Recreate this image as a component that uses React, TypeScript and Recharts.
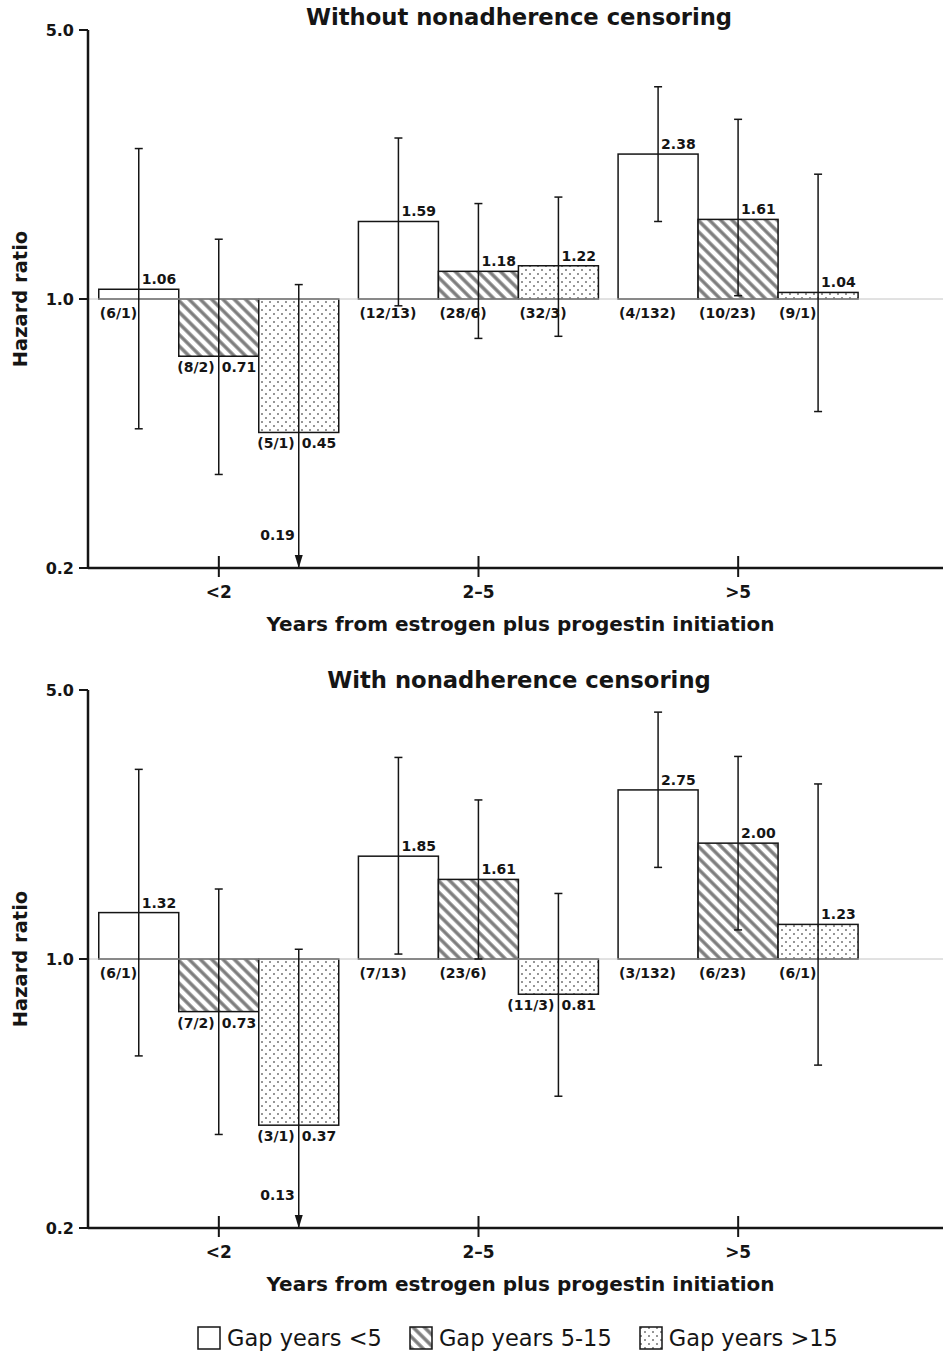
import React from 'react';
import { BarChart, Bar, XAxis, YAxis, ErrorBar, ReferenceLine, Label } from 'recharts';

const groups = ['<2', '2\u20135', '>5'];

// Without nonadherence censoring
const hrLt5A = [1.06, 1.59, 2.38];
const loLt5A = [0.46, 0.96, 1.59];
const hiLt5A = [2.46, 2.62, 3.56];
const nLt5A = ['(6/1)', '(12/13)', '(4/132)'];

const hrMidA = [0.71, 1.18, 1.61];
const loMidA = [0.35, 0.79, 1.02];
const hiMidA = [1.43, 1.77, 2.93];
const nMidA = ['(8/2)', '(28/6)', '(10/23)'];

const hrGt15A = [0.45, 1.22, 1.04];
const loGt15A = [0.19, 0.8, 0.51];
const hiGt15A = [1.09, 1.84, 2.11];
const nGt15A = ['(5/1)', '(32/3)', '(9/1)'];

// With nonadherence censoring
const hrLt5B = [1.32, 1.85, 2.75];
const loLt5B = [0.56, 1.03, 1.73];
const hiLt5B = [3.11, 3.34, 4.38];
const nLt5B = ['(6/1)', '(7/13)', '(3/132)'];

const hrMidB = [0.73, 1.61, 2.0];
const loMidB = [0.35, 1.0, 1.19];
const hiMidB = [1.52, 2.59, 3.36];
const nMidB = ['(7/2)', '(23/6)', '(6/23)'];

const hrGt15B = [0.37, 0.81, 1.23];
const loGt15B = [0.13, 0.44, 0.53];
const hiGt15B = [1.06, 1.48, 2.85];
const nGt15B = ['(3/1)', '(11/3)', '(6/1)'];

const yDomain = [0.2, 5];
const yTicks = [0.2, 1, 5];

const FONT = '"DejaVu Sans", sans-serif';
const INK = '#151515';

const series = [
  { id: 'lt5', name: 'Gap years <5', fill: '#ffffff' },
  { id: 'mid', name: 'Gap years 5-15', fill: 'url(#hatch)' },
  { id: 'gt15', name: 'Gap years >15', fill: 'url(#dots)' },
];

function buildRows(hr: number[][], lo: number[][], hi: number[][], n: string[][]) {
  return groups.map((group, i) => {
    const row: Record<string, any> = { group };
    series.forEach((s, j) => {
      row[s.id] = [1, hr[j][i]]; // bars start at HR = 1
      row[s.id + 'Hr'] = hr[j][i];
      row[s.id + 'Lo'] = lo[j][i];
      row[s.id + 'Hi'] = hi[j][i];
      row[s.id + 'N'] = n[j][i];
    });
    return row;
  });
}

const rowsA = buildRows(
  [hrLt5A, hrMidA, hrGt15A],
  [loLt5A, loMidA, loGt15A],
  [hiLt5A, hiMidA, hiGt15A],
  [nLt5A, nMidA, nGt15A]
);
const rowsB = buildRows(
  [hrLt5B, hrMidB, hrGt15B],
  [loLt5B, loMidB, loGt15B],
  [hiLt5B, hiMidB, hiGt15B],
  [nLt5B, nMidB, nGt15B]
);

// error extents; a CI running off the bottom of the axis stops at the axis (arrow drawn by the bar)
const errorOf = (id: string) => (row: any) => {
  const hr = row[id + 'Hr'];
  const lo = Math.max(row[id + 'Lo'], yDomain[0]);
  return [hr - lo, row[id + 'Hi'] - hr];
};

const labelText = { fontFamily: FONT, fontWeight: 700, fontSize: 14, fill: INK };

function makeBarShape(id: string) {
  return (props: any) => {
    const { x, y, width, height, payload, background, fill } = props;
    const top = Math.min(y, y + height);
    const bottom = Math.max(y, y + height);
    const cx = x + width / 2;
    const hr = payload[id + 'Hr'];
    const lo = payload[id + 'Lo'];
    const n = payload[id + 'N'];
    const floor = background ? background.y + background.height : null;
    return (
      <g>
        <rect x={x} y={top} width={width} height={bottom - top} fill={fill} stroke={INK} strokeWidth={1.5} />
        {hr >= 1 ? (
          <>
            <text x={cx + 3} y={top - 5} {...labelText}>{hr.toFixed(2)}</text>
            <text x={x + 1} y={bottom + 19} {...labelText}>{n}</text>
          </>
        ) : (
          <>
            <text x={cx - 4} y={bottom + 16} textAnchor="end" {...labelText}>{n}</text>
            <text x={cx + 3} y={bottom + 16} {...labelText}>{hr.toFixed(2)}</text>
          </>
        )}
        {lo < yDomain[0] && floor != null && (
          <>
            <path d={`M${cx - 4},${floor - 13} L${cx + 4},${floor - 13} L${cx},${floor} Z`} fill={INK} />
            <text x={cx - 4} y={floor - 28} textAnchor="end" {...labelText}>{lo.toFixed(2)}</text>
          </>
        )}
      </g>
    );
  };
}

function CategoryTick(props: any) {
  const { x, y, payload } = props;
  return (
    <g>
      <line x1={x} y1={y - 12} x2={x} y2={y + 9} stroke={INK} strokeWidth={2} />
      <text x={x} y={y + 30} textAnchor="middle" fontFamily={FONT} fontWeight={700} fontSize={17} fill={INK}>
        {payload.value}
      </text>
    </g>
  );
}

function Panel({ title, titleTop, rows, top }: { title: string; titleTop: number; rows: any[]; top: number }) {
  return (
    <div style={{ position: 'absolute', left: 0, top, width: 943, height: 645 }}>
      <div
        style={{
          position: 'absolute',
          top: titleTop,
          left: 519,
          transform: 'translateX(-50%)',
          whiteSpace: 'nowrap',
          fontFamily: FONT,
          fontWeight: 700,
          fontSize: 22.7,
          lineHeight: '23px',
          color: INK,
        }}
      >
        {title}
      </div>
      <BarChart
        width={943}
        height={645}
        data={rows}
        margin={{ top: 30, right: 0, bottom: 0, left: 0 }}
        barCategoryGap={9.75}
        barGap={0}
      >
        <XAxis
          dataKey="group"
          height={77}
          padding={{ left: 1, right: 75 }}
          axisLine={{ stroke: INK, strokeWidth: 2.5 }}
          tickLine={false}
          tickSize={0}
          tickMargin={0}
          interval={0}
          tick={<CategoryTick />}
        >
          <Label
            content={(p: any) => (
              <text
                x={p.viewBox.x + p.viewBox.width / 2 + 5}
                y={p.viewBox.y + 63}
                textAnchor="middle"
                fontFamily={FONT}
                fontWeight={700}
                fontSize={20}
                fill={INK}
              >
                Years from estrogen plus progestin initiation
              </text>
            )}
          />
        </XAxis>
        <YAxis
          type="number"
          scale="log"
          domain={yDomain}
          ticks={yTicks}
          allowDataOverflow
          width={88}
          tickFormatter={(v: number) => v.toFixed(1)}
          tick={{ fontFamily: FONT, fontWeight: 700, fontSize: 16, fill: INK }}
          tickSize={9}
          tickMargin={5}
          tickLine={{ stroke: INK, strokeWidth: 2 }}
          axisLine={{ stroke: INK, strokeWidth: 2.5 }}
        >
          <Label
            content={(p: any) => {
              const cy = p.viewBox.y + p.viewBox.height / 2;
              return (
                <text
                  x={27}
                  y={cy}
                  transform={`rotate(-90, 27, ${cy})`}
                  textAnchor="middle"
                  fontFamily={FONT}
                  fontWeight={700}
                  fontSize={19.5}
                  fill={INK}
                >
                  Hazard ratio
                </text>
              );
            }}
          />
        </YAxis>
        <ReferenceLine y={1} stroke="#c4c4c4" strokeWidth={1} />
        {series.map((s) => (
          <Bar key={s.id} dataKey={s.id} fill={s.fill} isAnimationActive={false} shape={makeBarShape(s.id)}>
            <ErrorBar
              dataKey={errorOf(s.id)}
              direction="y"
              width={4}
              stroke={INK}
              strokeWidth={1.5}
              isAnimationActive={false}
            />
          </Bar>
        ))}
      </BarChart>
    </div>
  );
}

function LegendRow() {
  return (
    <div
      style={{
        position: 'absolute',
        top: 1325,
        left: 197,
        display: 'flex',
        alignItems: 'center',
        fontFamily: FONT,
        fontSize: 22.5,
        color: INK,
        whiteSpace: 'nowrap',
      }}
    >
      {series.map((s) => (
        <div key={s.id} style={{ display: 'flex', alignItems: 'center', marginRight: 27 }}>
          <svg width={24} height={24}>
            <rect x={1} y={1} width={22} height={22} fill={s.fill} stroke={INK} strokeWidth={1.5} />
          </svg>
          <span style={{ marginLeft: 6 }}>{s.name}</span>
        </div>
      ))}
    </div>
  );
}

export default function App() {
  return (
    <div style={{ position: 'absolute', left: 0, top: 0, width: 943, height: 1355, overflow: 'hidden', background: '#fff' }}>
      <svg width={0} height={0} style={{ position: 'absolute' }}>
        <defs>
          <pattern id="hatch" patternUnits="userSpaceOnUse" width={8} height={8} patternTransform="rotate(-45)">
            <rect width={8} height={8} fill="#fff" />
            <line x1={2} y1={0} x2={2} y2={8} stroke="#7d7d7d" strokeWidth={3.4} />
          </pattern>
          <pattern id="dots" patternUnits="userSpaceOnUse" width={8} height={8}>
            <rect width={8} height={8} fill="#fff" />
            <circle cx={2} cy={2} r={0.95} fill="#6a6a6a" />
            <circle cx={6} cy={6} r={0.95} fill="#6a6a6a" />
          </pattern>
        </defs>
      </svg>
      <Panel title="Without nonadherence censoring" titleTop={6} rows={rowsA} top={0} />
      <Panel title="With nonadherence censoring" titleTop={9} rows={rowsB} top={660} />
      <LegendRow />
    </div>
  );
}
